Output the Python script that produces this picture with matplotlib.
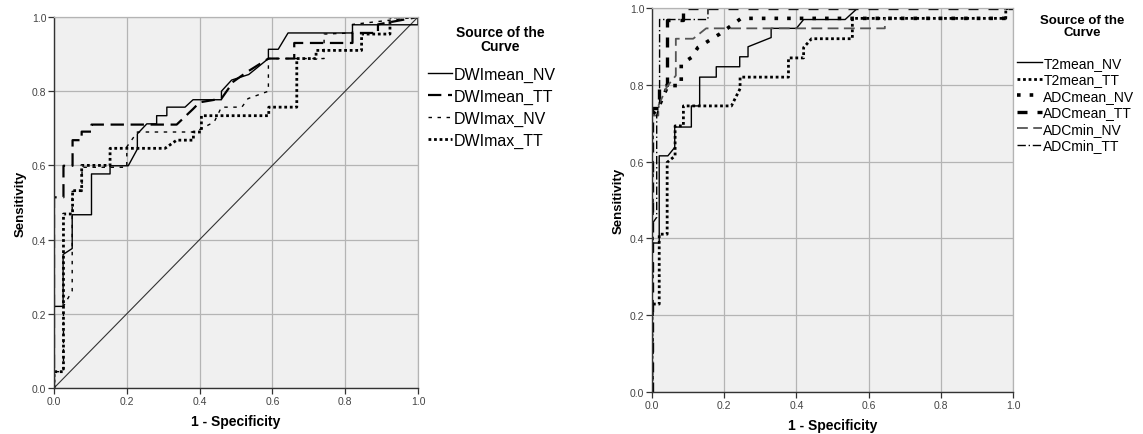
import numpy as np
import matplotlib
matplotlib.use("Agg")
import matplotlib.pyplot as plt

plt.rcParams['font.family'] = ['Liberation Sans', 'DejaVu Sans']

# ---- left panel: DWI curves (1 - specificity, sensitivity)
dwimean_nv_x = [0, 0, 0.025, 0.025, 0.05, 0.05, 0.103, 0.103, 0.154, 0.154, 0.204, 0.229, 0.229, 0.255, 0.282, 0.282,
                0.31, 0.31, 0.36, 0.382, 0.46, 0.46, 0.488, 0.535, 0.589, 0.589, 0.616, 0.643, 0.82, 0.82, 1.0, 1.0]
dwimean_nv_y = [0, 0.22, 0.22, 0.36, 0.376, 0.467, 0.467, 0.577, 0.577, 0.599, 0.599, 0.644, 0.685, 0.712, 0.712, 0.734,
                0.734, 0.757, 0.757, 0.777, 0.777, 0.80, 0.83, 0.845, 0.888, 0.913, 0.913, 0.957, 0.957, 0.979, 0.979, 1.0]

dwimean_tt_x = [0, 0, 0.026, 0.026, 0.051, 0.051, 0.076, 0.076, 0.103, 0.103, 0.337, 0.382, 0.40, 0.46, 0.493, 0.529,
                0.589, 0.66, 0.66, 0.82, 0.82, 0.89, 0.89, 1.0]
dwimean_tt_y = [0, 0.514, 0.514, 0.599, 0.599, 0.668, 0.668, 0.691, 0.691, 0.71, 0.71, 0.752, 0.77, 0.78, 0.826, 0.851,
                0.888, 0.888, 0.93, 0.93, 0.957, 0.957, 0.98, 1.0]

dwimax_nv_x = [0, 0, 0.026, 0.026, 0.05, 0.05, 0.077, 0.077, 0.20, 0.20, 0.229, 0.387, 0.44, 0.46, 0.516, 0.533, 0.589,
               0.589, 0.742, 0.742, 0.82, 0.82, 1.0]
dwimax_nv_y = [0, 0.044, 0.044, 0.22, 0.262, 0.53, 0.53, 0.595, 0.595, 0.65, 0.69, 0.69, 0.717, 0.757, 0.757, 0.78, 0.80,
               0.888, 0.888, 0.954, 0.957, 0.98, 1.0]

dwimax_tt_x = [0, 0, 0.026, 0.026, 0.051, 0.051, 0.076, 0.076, 0.154, 0.154, 0.305, 0.337, 0.383, 0.383, 0.405, 0.405,
               0.59, 0.59, 0.667, 0.667, 0.72, 0.72, 0.845, 0.845, 0.923, 0.923, 1.0]
dwimax_tt_y = [0, 0.044, 0.044, 0.469, 0.469, 0.532, 0.532, 0.60, 0.60, 0.646, 0.646, 0.668, 0.668, 0.69, 0.69, 0.734,
               0.734, 0.757, 0.757, 0.888, 0.888, 0.91, 0.91, 0.954, 0.954, 1.0, 1.0]

# ---- right panel: T2 / ADC curves
t2mean_nv_x = [0, 0, 0.02, 0.02, 0.044, 0.063, 0.063, 0.109, 0.109, 0.132, 0.132, 0.178, 0.178, 0.243, 0.243, 0.266,
               0.266, 0.33, 0.33, 0.40, 0.42, 0.535, 0.57, 1.0]
t2mean_nv_y = [0, 0.388, 0.388, 0.615, 0.615, 0.637, 0.69, 0.69, 0.745, 0.745, 0.82, 0.82, 0.847, 0.847, 0.873, 0.873,
               0.899, 0.923, 0.947, 0.947, 0.97, 0.97, 1.0, 1.0]

t2mean_tt_x = [0, 0, 0.02, 0.02, 0.042, 0.042, 0.064, 0.064, 0.087, 0.087, 0.22, 0.244, 0.244, 0.378, 0.378, 0.42, 0.42,
               0.442, 0.555, 0.555, 0.98, 0.98, 1.0]
t2mean_tt_y = [0, 0.229, 0.229, 0.411, 0.411, 0.598, 0.615, 0.693, 0.693, 0.745, 0.745, 0.79, 0.82, 0.82, 0.87, 0.87,
               0.897, 0.92, 0.92, 0.973, 0.973, 1.0, 1.0]

adcmean_nv_x = [0, 0, 0.02, 0.044, 0.081, 0.081, 0.109, 0.127, 0.187, 0.247, 0.98, 0.98, 1.0]
adcmean_nv_y = [0, 0.72, 0.745, 0.798, 0.798, 0.854, 0.871, 0.897, 0.932, 0.973, 0.973, 1.0, 1.0]

adcmean_tt_x = [0, 0, 0.02, 0.02, 0.041, 0.041, 0.087, 0.087, 1.0]
adcmean_tt_y = [0, 0.74, 0.74, 0.80, 0.80, 0.97, 0.97, 1.0, 1.0]

adcmin_nv_x = [0, 0, 0.0175, 0.0175, 0.042, 0.066, 0.066, 0.114, 0.15, 0.645, 0.645]
adcmin_nv_y = [0, 0.72, 0.72, 0.745, 0.796, 0.824, 0.92, 0.92, 0.947, 0.947, 0.973]

adcmin_tt_x = [0, 0, 0.013, 0.013, 0.021, 0.021, 0.155, 0.155, 1.0]
adcmin_tt_y = [0, 0.4375, 0.455, 0.72, 0.75, 0.97, 0.97, 1.0, 1.0]

ticks = [0.0, 0.2, 0.4, 0.6, 0.8, 1.0]
tick_labels = ['0.0', '0.2', '0.4', '0.6', '0.8', '1.0']
legend_title = 'Source of the\nCurve'

W, H = 1143, 435
fig = plt.figure(figsize=(W / 100, H / 100), dpi=100)
ax1 = fig.add_axes([54 / W, 1 - 389 / H, 364 / W, 371 / H])
ax2 = fig.add_axes([652 / W, 1 - 393 / H, 361 / W, 384 / H])


def style_axes(ax):
    ax.set_facecolor('#f0f0f0')
    ax.set_xlim(0, 1)
    ax.set_ylim(0, 1)
    ax.set_xticks(ticks)
    ax.set_yticks(ticks)
    ax.set_xticklabels(tick_labels)
    ax.set_yticklabels(tick_labels)
    ax.grid(True, color='#b4b4b4', lw=0.9)
    ax.set_axisbelow(True)
    ax.tick_params(labelsize=7.5, labelcolor='#444444', length=4, width=0.9, pad=1.5, color='#333333')
    for s in ['left', 'bottom']:
        ax.spines[s].set_color('#333333')
        ax.spines[s].set_linewidth(1.0)
    for s in ['top', 'right']:
        ax.spines[s].set_color('#b4b4b4')
        ax.spines[s].set_linewidth(0.9)
    ax.set_xlabel('1 - Specificity', fontsize=10, fontweight='bold', labelpad=6)
    ax.set_ylabel('Sensitivity', fontsize=9.5, fontweight='bold', labelpad=4)


style_axes(ax1)
style_axes(ax2)

# left panel
ax1.plot([0, 1], [0, 1], color='#333333', lw=0.8)
ax1.plot(dwimean_nv_x, dwimean_nv_y, color='black', lw=1.0, label='DWImean_NV')
ax1.plot(dwimean_tt_x, dwimean_tt_y, color='black', lw=1.6, dashes=(6, 3), label='DWImean_TT')
ax1.plot(dwimax_nv_x, dwimax_nv_y, color='black', lw=1.0, dashes=(2.5, 4), label='DWImax_NV')
ax1.plot(dwimax_tt_x, dwimax_tt_y, color='black', lw=2.0, dashes=(1, 1), label='DWImax_TT')

fig.text(500 / W, 1 - 40 / H, legend_title, ha='center', va='center', fontsize=10,
         fontweight='bold', linespacing=1.0)
ax1.legend(loc='upper left', bbox_to_anchor=(428 / W, 1 - 68 / H), bbox_transform=fig.transFigure,
           frameon=False, fontsize=11.5, handlelength=1.5, handletextpad=0.1,
           labelspacing=0.43, borderaxespad=0, borderpad=0)

# right panel
ax2.plot(t2mean_nv_x, t2mean_nv_y, color='black', lw=1.0, label='T2mean_NV')
ax2.plot(t2mean_tt_x, t2mean_tt_y, color='black', lw=2.0, dashes=(1, 1), label='T2mean_TT')
ax2.plot(adcmean_nv_x, adcmean_nv_y, color='black', lw=2.6, dashes=(1, 2.5), label='ADCmean_NV')
ax2.plot(adcmean_tt_x, adcmean_tt_y, color='black', lw=2.4, dashes=(3, 3), label='ADCmean_TT')
ax2.plot(adcmin_nv_x, adcmin_nv_y, color='#555555', lw=1.3, dashes=(6, 3), label='ADCmin_NV')
ax2.plot(adcmin_tt_x, adcmin_tt_y, color='black', lw=1.0, dashes=(6, 2, 1, 2), label='ADCmin_TT')

fig.text(1082 / W, 1 - 27 / H, legend_title, ha='center', va='center', fontsize=9.5,
         fontweight='bold', linespacing=1.0)
ax2.legend(loc='upper left', bbox_to_anchor=(1017 / W, 1 - 57 / H), bbox_transform=fig.transFigure,
           frameon=False, fontsize=10, handlelength=1.8, handletextpad=0.1,
           labelspacing=0.18, borderaxespad=0, borderpad=0)

fig.savefig('out.png', dpi=100)
